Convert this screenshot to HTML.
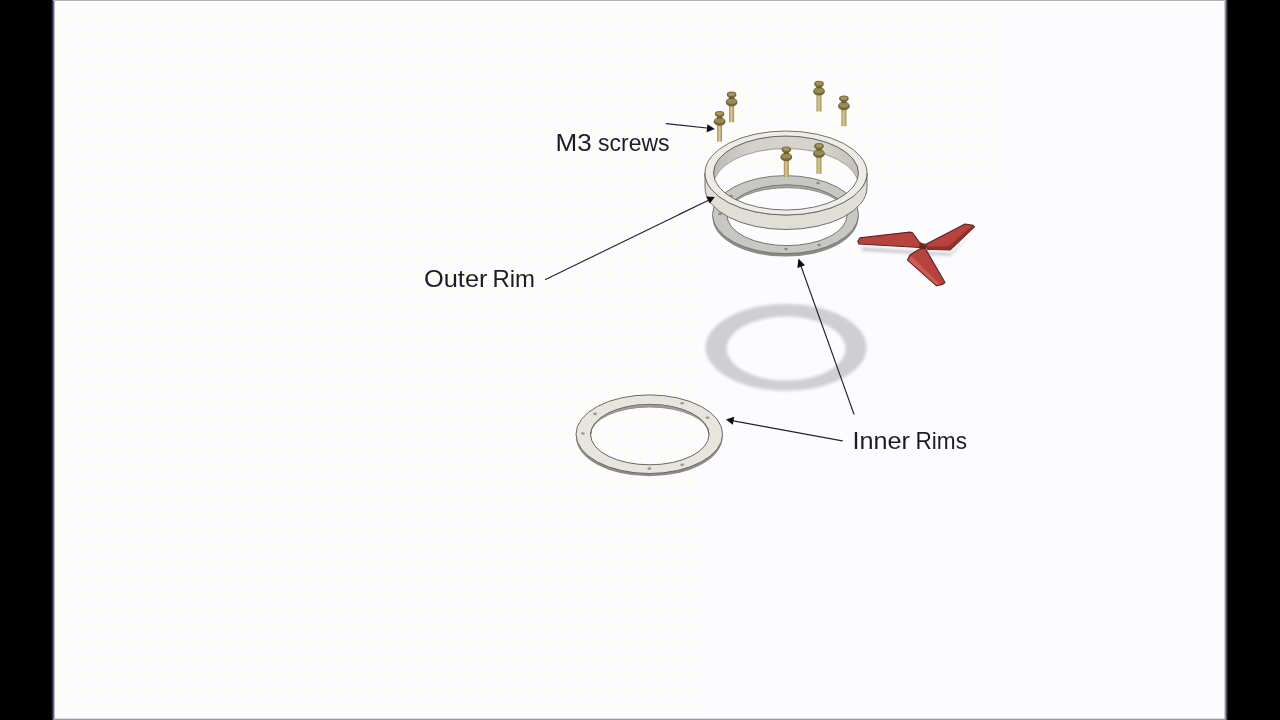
<!DOCTYPE html>
<html><head><meta charset="utf-8">
<style>
html,body{margin:0;padding:0;background:#000;width:1280px;height:720px;overflow:hidden}
svg{display:block;position:absolute;left:0;top:0}
text{font-family:"Liberation Sans",sans-serif;fill:#1c1c24}
</style></head><body>
<svg width="1280" height="720" viewBox="0 0 1280 720">
<defs>
<filter id="blur2" x="-20%" y="-20%" width="140%" height="140%"><feGaussianBlur stdDeviation="1.6"/></filter>
<filter id="blur1" x="-20%" y="-40%" width="140%" height="200%"><feGaussianBlur stdDeviation="1.8"/></filter>
<filter id="soft" x="-5%" y="-5%" width="110%" height="110%"><feGaussianBlur stdDeviation="0.45"/></filter>
<linearGradient id="shaft" x1="0" x2="1" y1="0" y2="0"><stop offset="0" stop-color="#9f8c54"/><stop offset=".45" stop-color="#dccb98"/><stop offset="1" stop-color="#a08c52"/></linearGradient>
<g id="screw">
 <rect x="-2.5" y="12.5" width="5" height="18.3" fill="url(#shaft)"/>
 <ellipse cx="0" cy="10.6" rx="5.9" ry="4.3" fill="#73663a"/>
 <ellipse cx="0" cy="9.7" rx="4.7" ry="2.6" fill="#9a8a53"/>
 <rect x="-2.6" y="4.6" width="5.2" height="3" fill="#665a2f"/>
 <ellipse cx="0" cy="3.2" rx="4.8" ry="3.1" fill="#74673a"/>
 <ellipse cx="0" cy="2.7" rx="3.5" ry="1.8" fill="#a59660"/>
</g>
<linearGradient id="backwall" x1="0" x2="1" y1="0" y2="0"><stop offset="0" stop-color="#bdbbb5"/><stop offset=".25" stop-color="#d3d1ca"/><stop offset=".75" stop-color="#d6d4cd"/><stop offset="1" stop-color="#c2c0ba"/></linearGradient>
<linearGradient id="edgeL" x1="0" x2="1" y1="0" y2="0"><stop offset="0" stop-color="#000"/><stop offset=".35" stop-color="#2a2a40"/><stop offset=".7" stop-color="#9a9ab4"/><stop offset="1" stop-color="#fcfcfe"/></linearGradient>
<linearGradient id="edgeR" x1="0" x2="1" y1="0" y2="0"><stop offset="0" stop-color="#fcfcfe"/><stop offset=".3" stop-color="#b4b4c4"/><stop offset=".65" stop-color="#3a3a4c"/><stop offset="1" stop-color="#000"/></linearGradient>
<pattern id="dots" x="0" y="0" width="8" height="8" patternUnits="userSpaceOnUse"><rect x="0" y="0" width="1" height="1" fill="#fdfdc4"/></pattern>
</defs>
<!-- page -->
<rect x="0" y="0" width="1280" height="720" fill="#000"/>
<rect x="53" y="0" width="1174" height="720" fill="#fcfcfe"/>
<rect x="56" y="8" width="944" height="176" fill="url(#dots)"/>
<rect x="56" y="184" width="648" height="528" fill="url(#dots)"/>
<rect x="51" y="0" width="4.5" height="720" fill="url(#edgeL)"/>
<rect x="1223.5" y="0" width="5" height="720" fill="url(#edgeR)"/>
<rect x="53" y="718.7" width="1173" height="1.3" fill="#9696aa"/>
<rect x="53" y="0" width="1173" height="1" fill="#b4b4b0"/>

<g filter="url(#soft)">
<!-- shadow ring -->
<path filter="url(#blur2)" fill="#cfcfd3" fill-rule="evenodd" d="M705.6,347.4a80.5,43.4 0 1,0 161,0a80.5,43.4 0 1,0 -161,0Z M726.7,348.6a59.4,32 0 1,0 118.8,0a59.4,32 0 1,0 -118.8,0Z"/>

<!-- upper inner rim (flat, grey) -->
<g id="rimA">
 <path fill="#8a8a86" fill-rule="evenodd" d="M712.5,217.6a73,39 0 1,0 146,0a73,39 0 1,0 -146,0Z M727,215.3a60,30.3 0 1,0 120,0a60,30.3 0 1,0 -120,0Z"/>
 <path fill="#c7c7c3" stroke="#6f6f6b" stroke-width="0.9" fill-rule="evenodd" d="M712.5,214.6a73,39 0 1,0 146,0a73,39 0 1,0 -146,0Z M727,215.3a60,30.3 0 1,0 120,0a60,30.3 0 1,0 -120,0Z"/>
 <path fill="#a9a9a5" stroke="#6f6f6b" stroke-width="0.7" d="M727,215.3a60,30.3 0 0,1 120,0a60,27.6 0 0,0 -120,0Z"/>
 <g fill="#8a8a83"><ellipse cx="731" cy="196" rx="1.8" ry="1.2"/><ellipse cx="720" cy="214" rx="1.8" ry="1.2"/><ellipse cx="818" cy="183" rx="1.8" ry="1.2"/><ellipse cx="843" cy="197" rx="1.8" ry="1.2"/><ellipse cx="786" cy="249" rx="1.8" ry="1.2"/><ellipse cx="819" cy="245" rx="1.8" ry="1.2"/></g>
</g>

<!-- outer rim -->
<g id="outer">
 <path fill="url(#backwall)" stroke="#6a6864" stroke-width="0.6" d="M713.5,173a72.5,37 0 0,1 145,0l0,12.5a72.5,37 0 0,0 -145,0Z"/>
 <path fill="#e1ded6" stroke="#63615c" stroke-width="0.9" d="M705,173a81,42 0 0,0 162,0l0,14.5a81,42 0 0,1 -162,0Z"/>
 <path fill="#eeece6" stroke="#63615c" stroke-width="0.9" fill-rule="evenodd" d="M705,173a81,42 0 1,0 162,0a81,42 0 1,0 -162,0Z M713.5,173a72.5,37 0 1,0 145,0a72.5,37 0 1,0 -145,0Z"/>
</g>

<!-- screws -->
<use href="#screw" x="731.6" y="91.5"/>
<use href="#screw" x="719.6" y="110.9"/>
<use href="#screw" x="819" y="80.7"/>
<use href="#screw" x="843.9" y="95.4"/>
<use href="#screw" x="786.3" y="146.4"/>
<use href="#screw" x="819" y="143"/>

<!-- propeller -->
<g>
 <path filter="url(#blur1)" fill="#b9b4bc" opacity=".7" d="M862,247L920,251L950,253L968,238L950,256L862,251Z"/>
 <path fill="#b8423c" stroke="#5c2420" stroke-width="1.1" stroke-linejoin="round" d="M857.8,241.3L860,237.8L910,232.1L912.5,232.8L919.1,241.9L924,245L920,247.5L858.8,244Z"/>
 <path fill="#b8423c" stroke="#5c2420" stroke-width="1.1" stroke-linejoin="round" d="M926.3,244L965,224L973.1,225.3L974.4,226.9L950,250L927.5,249.4Z"/>
 <path fill="#8e302b" d="M926.5,246.4L948,246.6L972.5,225.5L974.4,226.9L950,250L927.5,249.4Z"/>
 <path fill="#b8423c" stroke="#5c2420" stroke-width="1.1" stroke-linejoin="round" d="M920,248.8L925,248.1L945,282.5L942.5,284.4L936.3,285.6L907.5,260L910,255Z"/>
 <path fill="#cf5a54" d="M908.2,260L911.5,256.3L940,284.3L936.5,285Z"/>
 <path fill="#6e2622" d="M919,243.6L925.5,243.4L927,248.6L920,249.4Z"/>
</g>

<!-- lower inner rim -->
<g id="rimB">
 <path fill="#8d8b86" fill-rule="evenodd" d="M576,437a73.3,39.3 0 1,0 146.6,0a73.3,39.3 0 1,0 -146.6,0Z M590.6,434.6a59.2,30.2 0 1,0 118.4,0a59.2,30.2 0 1,0 -118.4,0Z"/>
 <path fill="#e8e5df" stroke="#6a6864" stroke-width="1" fill-rule="evenodd" d="M576,434.2a73.3,39.3 0 1,0 146.6,0a73.3,39.3 0 1,0 -146.6,0Z M590.6,434.6a59.2,30.2 0 1,0 118.4,0a59.2,30.2 0 1,0 -118.4,0Z"/>
 <path fill="#a3a19c" stroke="#6f6d69" stroke-width="0.7" d="M590.6,434.6a59.2,30.2 0 0,1 118.4,0a59.2,27.6 0 0,0 -118.4,0Z"/>
 <g fill="#9a9890"><ellipse cx="595.1" cy="413.9" rx="1.9" ry="1.3"/><ellipse cx="582.9" cy="433.5" rx="1.9" ry="1.3"/><ellipse cx="682.2" cy="403.2" rx="1.9" ry="1.3"/><ellipse cx="707.5" cy="417.7" rx="1.9" ry="1.3"/><ellipse cx="649.4" cy="468.6" rx="1.9" ry="1.3"/><ellipse cx="682.2" cy="464.8" rx="1.9" ry="1.3"/></g>
</g>

<!-- arrows -->
<g stroke="#24242c" stroke-width="1.15" fill="none" stroke-linecap="round">
 <line x1="666.3" y1="123.6" x2="709" y2="128.2"/>
 <line x1="545.5" y1="279.5" x2="709" y2="199.9"/>
 <line x1="854" y1="414.2" x2="800.6" y2="265"/>
 <line x1="842.3" y1="440.9" x2="732" y2="420.6"/>
</g>
<g fill="#0c0c12">
 <path d="M714.8,128.9L706.6,132.2L707.4,124.2Z"/>
 <path d="M714.8,197L709.8,203.6L706,196.6Z"/>
 <path d="M798.4,258.6L805,265.2L797.4,267.9Z"/>
 <path d="M726,419.5L734.2,416.8L732.8,424.8Z"/>
</g>

<!-- labels -->
<text id="t1" x="555.6" y="151.4" font-size="23.6" textLength="36.2" lengthAdjust="spacingAndGlyphs">M3</text>
<text id="t2" x="598" y="151.4" font-size="23.6" textLength="71.5" lengthAdjust="spacingAndGlyphs">screws</text>
<text id="t3" x="424" y="287.4" font-size="23.6" textLength="63.5" lengthAdjust="spacingAndGlyphs">Outer</text>
<text id="t4" x="492.4" y="287.4" font-size="23.6" textLength="42.6" lengthAdjust="spacingAndGlyphs">Rim</text>
<text id="t5" x="852.5" y="448.6" font-size="23.6" textLength="57.5" lengthAdjust="spacingAndGlyphs">Inner</text>
<text id="t6" x="915.5" y="448.6" font-size="23.6" textLength="51.5" lengthAdjust="spacingAndGlyphs">Rims</text>
</g>
</svg>
</body></html>
